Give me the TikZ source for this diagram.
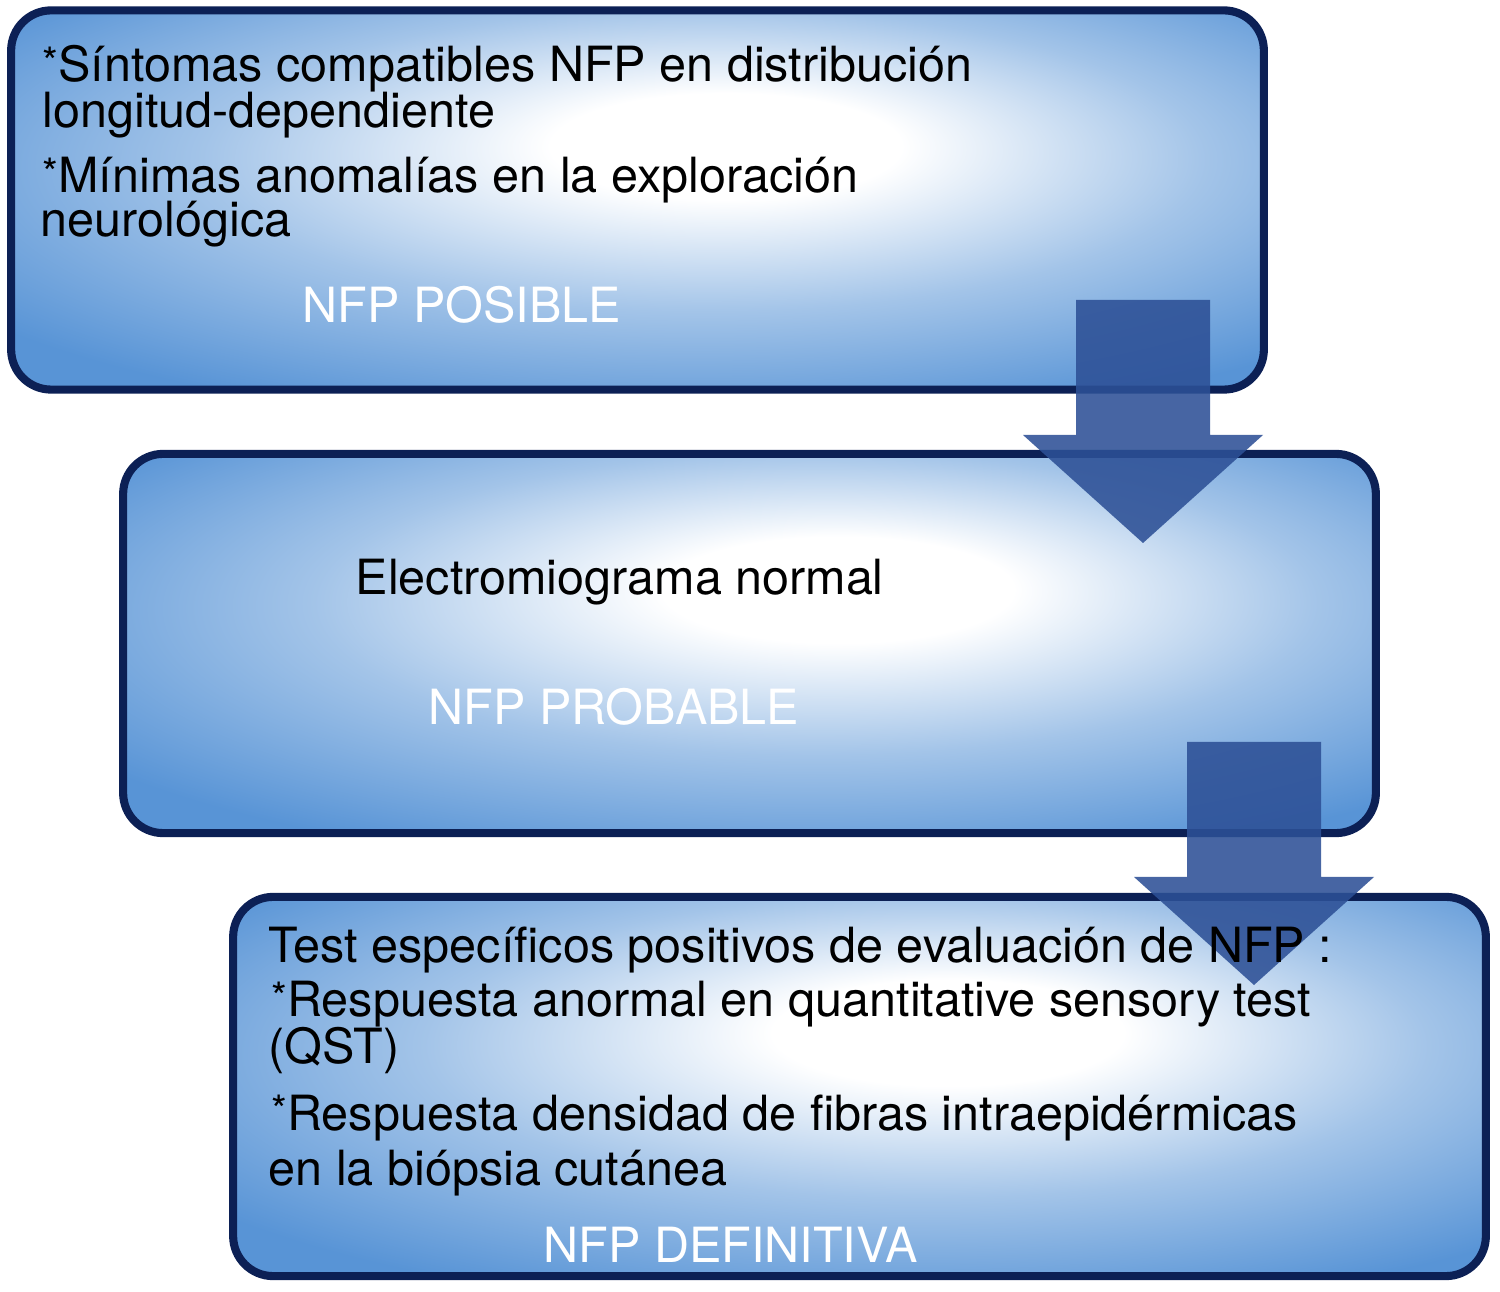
\documentclass[tikz,border=0pt]{standalone}
\usepackage{fontspec}
\setmainfont{TeX Gyre Heros}
\usepackage{xcolor}
\definecolor{boxblue}{RGB}{88,148,214}
\definecolor{boxedge}{RGB}{12,32,85}
\definecolor{arrblue}{RGB}{45,80,150}
\pgfdeclareradialshading{boxglow}{\pgfpoint{4bp}{8bp}}{%
  color(0bp)=(white); color(7bp)=(white); color(20bp)=(boxblue!55!white);
  color(34bp)=(boxblue); color(60bp)=(boxblue)}
\newcommand{\itemstar}{\raisebox{1.5pt}{\fontsize{11.5}{11.5}\selectfont *}}
\tikzset{
  stagebox/.style={rectangle, draw=boxedge, line width=2.3pt, rounded corners=0.4cm,
                   minimum width=12.52cm, minimum height=3.79cm, shading=boxglow, inner sep=0pt},
  itemtext/.style={anchor=base west, inner sep=0pt, font=\fontsize{13.8}{16}\selectfont, text=black},
  stagelabel/.style={itemtext, text=white},
  downarr/.pic={\fill[arrblue, fill opacity=0.88]
    (-67,0) -- (67,0) -- (67,135) -- (120,135) -- (0,243) -- (-120,135) -- (-67,135) -- cycle;},
}

\begin{document}
\begin{tikzpicture}[x=0.01cm, y=-0.01cm]
  \useasboundingbox (0,0) rectangle (1500,1292);
  % three stages
  \node[stagebox] (posible)  at (637.5,200)  {};
  \node[stagebox] (probable) at (749.5,643.5) {};
  \node[stagebox] (definit)  at (859.5,1086.5) {};
  % block arrows between stages
  \pic at (1143,300) {downarr};
  \pic at (1254,742) {downarr};
  % stage 1
  \node[itemtext] (sint1) at (42,82)  {\itemstar Síntomas compatibles NFP en distribución};
  \node[itemtext] (sint2) at (42,128) {longitud-dependiente};
  \node[itemtext] (mini1) at (42,193) {\itemstar Mínimas anomalías en la exploración};
  \node[itemtext] (mini2) at (40,237) {neurológica};
  \node[stagelabel] (lbpos) at (302,323) {NFP POSIBLE};
  % stage 2
  \node[itemtext] (emg) at (355,595) {Electromiograma normal};
  \node[stagelabel] (lbprob) at (428,725) {NFP PROBABLE};
  % stage 3
  \node[itemtext] (test)  at (268,962)  {Test específicos positivos de evaluación de NFP :};
  \node[itemtext] (qst1)  at (271,1017) {\itemstar Respuesta anormal en quantitative sensory test};
  \node[itemtext] (qst2)  at (268,1063) {(QST)};
  \node[itemtext] (fib1)  at (271,1130) {\itemstar Respuesta densidad de fibras intraepidérmicas};
  \node[itemtext] (fib2)  at (268,1185) {en la biópsia cutánea};
  \node[stagelabel] (lbdef) at (543,1262) {NFP DEFINITIVA};
\end{tikzpicture}
\end{document}
